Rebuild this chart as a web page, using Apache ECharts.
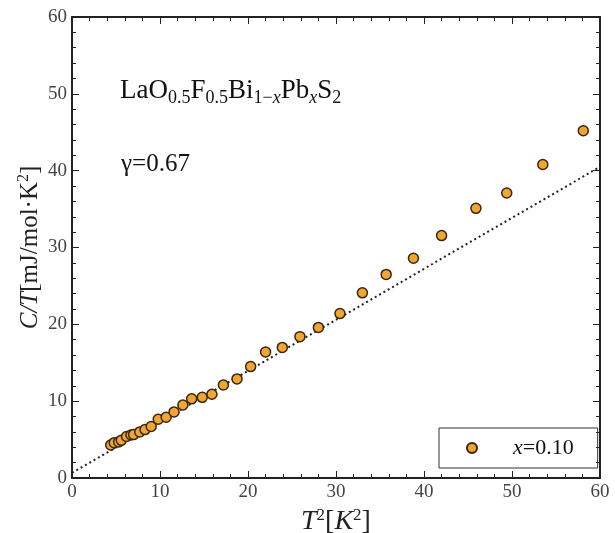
<!DOCTYPE html>
<html>
<head>
<meta charset="utf-8">
<script src="https://cdn.jsdelivr.net/npm/echarts@6/dist/echarts.min.js"></script>
<style>
  html, body { margin: 0; padding: 0; background: #fff; }
  #chart { width: 615px; height: 533px; }
</style>
</head>
<body>
<div id="chart"></div>
<script>
// T^2 [K^2] and C/T [mJ/mol K^2]
const t2 = [4.4, 4.8, 5.3, 5.6, 6.2, 6.7, 7.0, 7.7, 8.3, 9.0, 9.8, 10.7, 11.6, 12.6, 13.6, 14.8, 15.9,
  17.2, 18.75, 20.3, 22.0, 23.9, 25.9, 28.0, 30.45, 33.0, 35.7, 38.8, 42.0, 45.9, 49.4, 53.5, 58.1];
const cOverT = [4.3, 4.6, 4.7, 4.9, 5.4, 5.6, 5.65, 6.0, 6.3, 6.7, 7.65, 7.9, 8.6, 9.5, 10.3, 10.5, 10.9,
  12.1, 12.9, 14.5, 16.4, 17.0, 18.4, 19.6, 21.4, 24.1, 26.5, 28.6, 31.55, 35.1, 37.1, 40.8, 45.2];
// dotted fit line endpoints
const fitLine = [[0, 0.67], [60, 40.5]];
const xTicks = [0, 10, 20, 30, 40, 50, 60];
const yTicks = [0, 10, 20, 30, 40, 50, 60];

const chart = echarts.init(document.getElementById('chart'));
const serif = 'Liberation Serif';
const ink = '#222';

const frameAxis = {
  min: 0, max: 60, interval: 10,
  axisLine: { show: true, onZero: false, lineStyle: { color: ink, width: 2 } },
  axisTick: { show: true, inside: true, length: 7, lineStyle: { color: ink, width: 1 } },
  minorTick: { show: true, splitNumber: 5, length: 4, lineStyle: { color: ink, width: 1 } },
  splitLine: { show: false }
};

const option = {
  animation: false,
  backgroundColor: '#fff',
  grid: { left: 72, right: 15, top: 17, bottom: 55, outerBoundsMode: 'none', containLabel: false },
  title: [
    {
      left: 115, top: 70,
      text: '{n|LaO}{s|0.5}{n|F}{s|0.5}{n|Bi}{s|1−}{si|x}{n|Pb}{si|x}{n|S}{s|2}',
      textStyle: {
        fontWeight: 'normal',
        rich: {
          n: { fontFamily: serif, fontSize: 27, fontWeight: 'normal', color: '#111', lineHeight: 32 },
          s: { fontFamily: serif, fontSize: 18, fontWeight: 'normal', color: '#111', verticalAlign: 'bottom', lineHeight: 18 },
          si: { fontFamily: serif, fontSize: 18, fontWeight: 'normal', fontStyle: 'italic', color: '#111', verticalAlign: 'bottom', lineHeight: 18 }
        }
      }
    },
    {
      left: 116, top: 147,
      text: 'γ=0.67',
      textStyle: { fontFamily: serif, fontSize: 25, fontWeight: 'normal', color: '#111' }
    }
  ],
  legend: {
    left: 439, top: 428,
    padding: [9, 24, 9, 27],
    borderColor: '#333', borderWidth: 1, borderRadius: 0,
    itemWidth: 10, itemHeight: 10,
    formatter: '{i|x}{n|=0.10}',
    textStyle: {
      rich: {
        i: { fontFamily: serif, fontSize: 22, fontStyle: 'italic', color: '#111', padding: [0, 0, 0, 31] },
        n: { fontFamily: serif, fontSize: 22, color: '#111' }
      }
    },
    data: ['x=0.10']
  },
  xAxis: [
    Object.assign({}, frameAxis, {
      type: 'value', position: 'bottom',
      axisLabel: {
        show: true, margin: 5, fontFamily: serif, fontSize: 19, color: '#444',
        customValues: xTicks
      },
      name: '{i|T}{s|2}{n|[}{i|K}{s|2}{n|]}',
      nameLocation: 'middle', nameGap: 24,
      nameTextStyle: {
        rich: {
          i: { fontFamily: serif, fontSize: 28, fontStyle: 'italic', color: '#222', lineHeight: 30 },
          n: { fontFamily: serif, fontSize: 28, color: '#222', lineHeight: 30 },
          s: { fontFamily: serif, fontSize: 17, color: '#222', verticalAlign: 'top', lineHeight: 17 }
        }
      }
    }),
    Object.assign({}, frameAxis, { type: 'value', position: 'top', axisLabel: { show: false } })
  ],
  yAxis: [
    Object.assign({}, frameAxis, {
      type: 'value', position: 'left',
      axisLabel: {
        show: true, margin: 5, fontFamily: serif, fontSize: 19, color: '#444',
        customValues: yTicks
      },
      name: '{i|C/T}{n|[mJ/mol·K}{s|2}{n|]}',
      nameLocation: 'middle', nameGap: 28, nameRotate: 90,
      nameMoveOverlap: false,
      nameTextStyle: {
        rich: {
          i: { fontFamily: serif, fontSize: 25, fontStyle: 'italic', color: '#222', lineHeight: 28 },
          n: { fontFamily: serif, fontSize: 25, color: '#222', lineHeight: 28 },
          s: { fontFamily: serif, fontSize: 16, color: '#222', verticalAlign: 'top', lineHeight: 16 }
        }
      }
    }),
    Object.assign({}, frameAxis, { type: 'value', position: 'right', axisLabel: { show: false } })
  ],
  series: [
    {
      name: 'fit',
      type: 'line',
      data: fitLine,
      symbol: 'none',
      lineStyle: { color: '#222', width: 2, type: [2, 3] },
      silent: true,
      z: 1
    },
    {
      name: 'x=0.10',
      type: 'scatter',
      data: t2.map((v, i) => [v, cOverT[i]]),
      symbol: 'circle',
      symbolSize: 10,
      itemStyle: { color: '#F0A634', borderColor: '#3a2608', borderWidth: 1.5, opacity: 1 },
      z: 3
    }
  ]
};

chart.setOption(option);
</script>
</body>
</html>
